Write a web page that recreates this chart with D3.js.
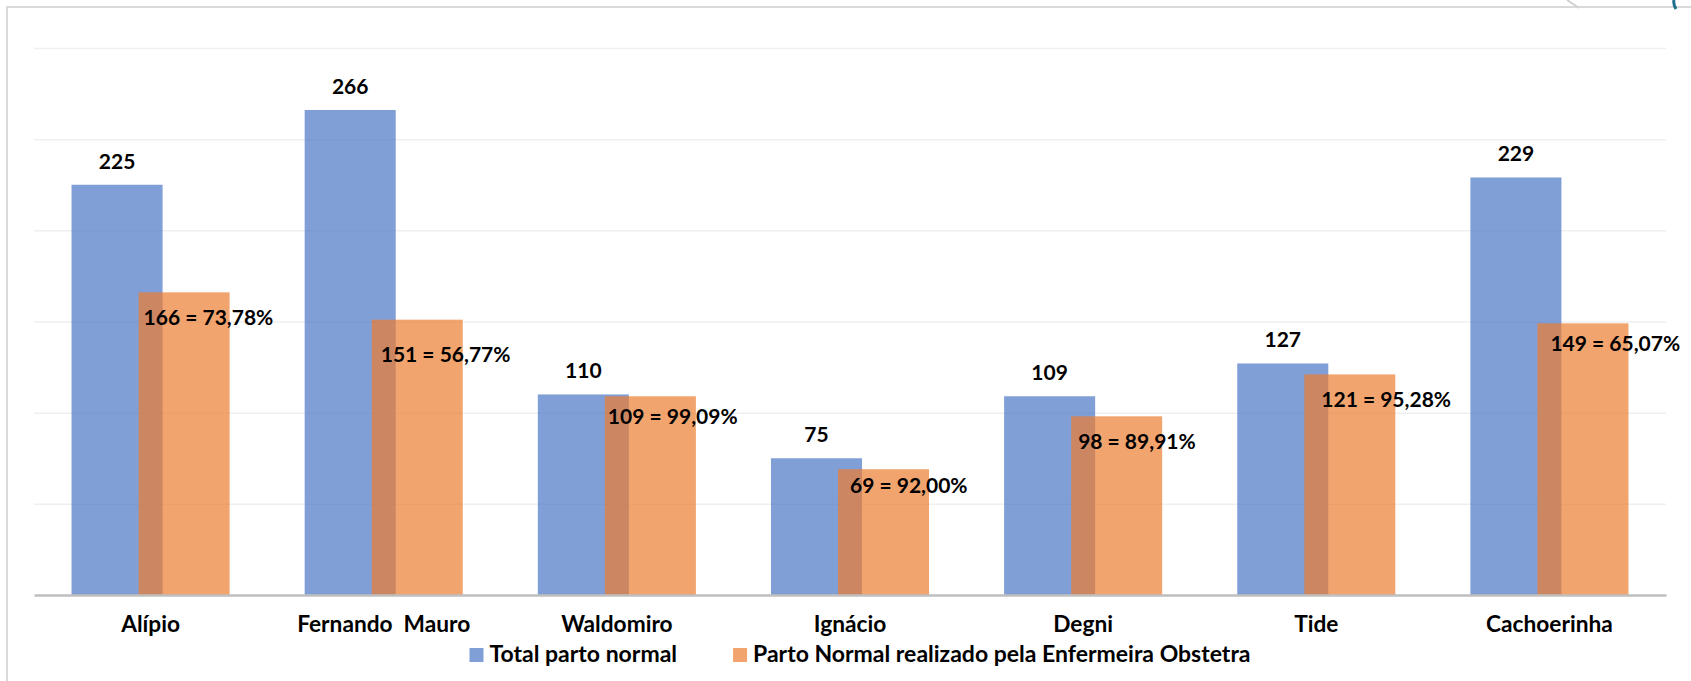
<!DOCTYPE html>
<html>
<head>
<meta charset="utf-8">
<script src="https://cdn.jsdelivr.net/npm/d3@7"></script>
<style>
  html, body { margin: 0; padding: 0; background: #ffffff; }
  svg { display: block; }
  text { font-family: Lato, "Noto Sans", sans-serif; font-weight: 700; fill: #000; }
</style>
</head>
<body>
<svg id="chart" width="1691" height="681"></svg>
<script>
// ---- data ----
const categories = ["Alípio", "Fernando  Mauro", "Waldomiro", "Ignácio", "Degni", "Tide", "Cachoerinha"];
const totalPartoNormal = [225, 266, 110, 75, 109, 127, 229];
const partoEnfermeira = [166, 151, 109, 69, 98, 121, 149];
const percentLabels = ["73,78%", "56,77%", "99,09%", "92,00%", "89,91%", "95,28%", "65,07%"];
const seriesNames = ["Total parto normal", "Parto Normal realizado pela Enfermeira Obstetra"];
const gridValues = [0, 50, 100, 150, 200, 250, 300];

// ---- layout / style ----
const W = 1691, H = 681;
const plot = { left: 34, right: 1666, top: 48, bottom: 595 };
const colors = { blue: "#4472C4", orange: "#ED7D31" };
const barOpacity = { blue: 0.68, orange: 0.70 };
// manual label nudges (as placed in the original), dx from orange bar left, dy from its top
const orangeLabelNudge = [[5, 33], [9, 42], [3, 28], [12, 24], [7, 33], [17, 33], [13, 28]];

const svg = d3.select("#chart");

// chart border (partial, runs off the image)
svg.append("rect")
  .attr("x", 7).attr("y", 7).attr("width", W + 20).attr("height", H + 20)
  .attr("fill", "#fff").attr("stroke", "#d9d9d9").attr("stroke-width", 2);
// small slide decorations at top right
svg.append("path").attr("d", "M1567,0 L1579,8").attr("stroke", "#d0d0d0").attr("stroke-width", 2).attr("fill", "none");
svg.append("path").attr("d", "M1674,0 Q1673,4 1676,9").attr("stroke", "#1f6e8c").attr("stroke-width", 3).attr("fill", "none");

const x0 = d3.scaleBand()
  .domain(categories)
  .range([plot.left, plot.right])
  .paddingInner(0.322)
  .paddingOuter(0.161);
const barW = x0.bandwidth() * 91 / 158;

const y = d3.scaleLinear().domain([0, 300]).range([plot.bottom, plot.top]);

// gridlines
const grid = svg.append("g")
  .attr("transform", `translate(${plot.left},0)`)
  .call(d3.axisLeft(y).tickValues(gridValues.slice(1)).tickSize(-(plot.right - plot.left)).tickFormat(""));
grid.select(".domain").remove();
grid.selectAll("line").attr("stroke", "#efefef").attr("stroke-width", 1.5);

// bars: blue
svg.append("g").selectAll("rect")
  .data(totalPartoNormal)
  .join("rect")
  .attr("x", (d, i) => x0(categories[i]))
  .attr("y", d => y(d))
  .attr("width", barW)
  .attr("height", d => y(0) - y(d))
  .attr("fill", colors.blue)
  .attr("fill-opacity", barOpacity.blue);

// bars: orange
svg.append("g").selectAll("rect")
  .data(partoEnfermeira)
  .join("rect")
  .attr("x", (d, i) => x0(categories[i]) + x0.bandwidth() - barW)
  .attr("y", d => y(d))
  .attr("width", barW)
  .attr("height", d => y(0) - y(d))
  .attr("fill", colors.orange)
  .attr("fill-opacity", barOpacity.orange);

// x axis (baseline + category labels)
const xAxis = svg.append("g")
  .attr("transform", `translate(0,${plot.bottom})`)
  .call(d3.axisBottom(x0).tickSize(0).tickSizeOuter(0));
xAxis.select(".domain").attr("stroke", "#bfbfbf").attr("stroke-width", 2.5);
xAxis.selectAll("text")
  .attr("y", 37).attr("dy", null)
  .style("font-size", "22.7px")
  .style("font-family", "Lato, 'Noto Sans', sans-serif")
  .style("font-weight", 700)
  .attr("fill", "#000")
  .attr("xml:space", "preserve");

// value labels: blue
svg.append("g").selectAll("text")
  .data(totalPartoNormal)
  .join("text")
  .attr("x", (d, i) => x0(categories[i]) + barW / 2)
  .attr("y", d => y(d) - 16)
  .attr("text-anchor", "middle")
  .style("font-size", "21px")
  .text(d => d);

// value labels: orange
svg.append("g").selectAll("text")
  .data(partoEnfermeira)
  .join("text")
  .attr("x", (d, i) => x0(categories[i]) + x0.bandwidth() - barW + orangeLabelNudge[i][0])
  .attr("y", (d, i) => y(d) + orangeLabelNudge[i][1])
  .style("font-size", "21px")
  .text((d, i) => `${d} = ${percentLabels[i]}`);

// legend
const legend = svg.append("g");
const legendColors = [colors.blue, colors.orange];
const legendOpac = [barOpacity.blue, barOpacity.orange];
let lx = 0;
seriesNames.forEach((name, i) => {
  const g = legend.append("g").attr("transform", `translate(${lx},0)`);
  g.append("rect").attr("x", 0).attr("y", -14).attr("width", 14).attr("height", 14)
    .attr("fill", legendColors[i]).attr("fill-opacity", legendOpac[i]);
  const t = g.append("text").attr("x", 20).attr("y", 0).style("font-size", "23px").text(name);
  const tw = t.node().getComputedTextLength();
  lx += 20 + tw + 56;
});
const legendWidth = lx - 56;
legend.attr("transform", `translate(${860 - legendWidth / 2},662)`);
</script>
</body>
</html>
